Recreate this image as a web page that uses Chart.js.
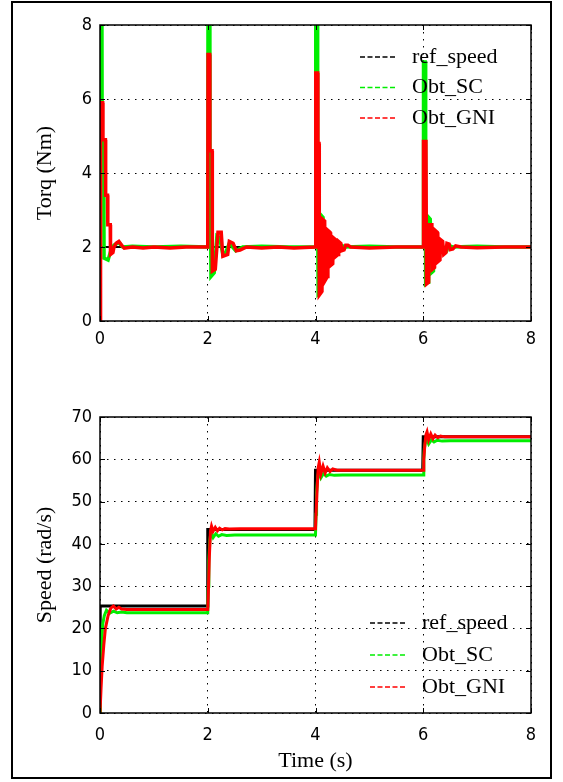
<!DOCTYPE html>
<html>
<head>
<meta charset="utf-8">
<script src="https://cdn.jsdelivr.net/npm/chart.js@4.4.1/dist/chart.umd.min.js"></script>
<style>
  html, body { margin: 0; padding: 0; background: #fff; }
  #page { position: relative; width: 563px; height: 782px; overflow: hidden; }
  #frame { position: absolute; left: 11px; top: 1px; width: 537px; height: 774px; border: 2px solid #000; }
  .box { position: absolute; left: 0; width: 563px; }
  #torqBox { top: 0; height: 370px; }
  #speedBox { top: 375px; height: 400px; }
</style>
</head>
<body>
<div id="page">
  <div id="frame"></div>
  <div class="box" id="torqBox"><canvas id="torqChart"></canvas></div>
  <div class="box" id="speedBox"><canvas id="speedChart"></canvas></div>
</div>
<script>
// --- datos ---
const seriesNames = ["ref_speed", "Obt_SC", "Obt_GNI"];
const xTicks = [0, 2, 4, 6, 8];
const torqTicks = [0, 2, 4, 6, 8];
const speedTicks = [0, 10, 20, 30, 40, 50, 60, 70];

// par (Nm)
const torqTimeRef = [0, 8];
const torqRef = [2, 2];

const torqTimeSC = [0, 0.005, 0.035, 0.04, 0.07, 0.075, 0.15, 0.2, 0.26, 0.35, 0.42, 0.6, 1.0, 1.5, 2.0,
  2.005, 2.035, 2.04, 2.05, 2.06, 2.12, 2.17, 2.22, 2.28, 2.33, 2.4, 2.52, 2.65, 3.0, 3.5, 4.0,
  4.005, 4.035, 4.04, 4.05, 4.1, 4.11, 4.14, 4.16, 4.2, 4.21, 4.25, 4.27, 4.31, 4.33, 4.36, 4.4, 4.44, 4.48, 4.55, 5.0, 5.5, 6.0,
  6.005, 6.035, 6.04, 6.05, 6.09, 6.1, 6.13, 6.15, 6.19, 6.2, 6.24, 6.26, 6.3, 6.32, 6.35, 6.39, 6.43, 6.47, 6.55, 7.0, 7.5, 8.0];
const torqSC = [0, 9, 9, 4.9, 4.9, 1.7, 1.65, 1.9, 2.05, 2.12, 2.0, 2.02, 2.0, 2.02, 2.0,
  9, 9, 3.4, 3.3, 1.2, 1.3, 2.3, 2.25, 1.8, 1.85, 2.1, 1.9, 2.0, 2.02, 2.0, 2.0,
  9, 9, 2.9, 0.75, 0.85, 2.85, 2.8, 1.3, 1.35, 2.3, 2.25, 1.6, 1.65, 2.15, 2.1, 1.85, 1.88, 2.05, 2.0, 2.02, 2.0, 2.0,
  7.0, 7.0, 2.9, 1.0, 1.05, 2.8, 2.75, 1.3, 1.35, 2.3, 2.25, 1.7, 1.75, 2.1, 2.08, 1.85, 1.88, 2.05, 2.0, 2.02, 2.0, 2.0];

const torqTimeGNI = [0, 0.005, 0.015, 0.05, 0.055, 0.1, 0.105, 0.14, 0.145, 0.19, 0.195, 0.24, 0.26, 0.3, 0.35, 0.4, 0.45, 0.6, 0.8, 1.0, 1.3, 1.6, 2.0,
  2.005, 2.035, 2.04, 2.08, 2.085, 2.14, 2.19, 2.25, 2.28, 2.37, 2.4, 2.47, 2.53, 2.6, 2.72, 3.0, 3.3, 3.6, 4.0,
  4.005, 4.04, 4.045, 4.065, 4.07, 4.12, 4.13, 4.17, 4.18, 4.22, 4.23, 4.27, 4.28, 4.32, 4.33, 4.37, 4.38, 4.42, 4.43, 4.47, 4.49, 4.53, 4.56, 4.6, 4.65, 5.0, 5.5, 6.0,
  6.005, 6.05, 6.06, 6.1, 6.11, 6.16, 6.17, 6.21, 6.22, 6.26, 6.27, 6.31, 6.32, 6.36, 6.38, 6.42, 6.44, 6.48, 6.5, 6.55, 6.6, 6.7, 7.0, 7.5, 8.0];
const torqGNI = [0, 1.6, 5.9, 5.9, 4.9, 4.9, 3.4, 3.4, 2.6, 2.6, 1.8, 1.85, 2.0, 2.1, 2.15, 2.05, 1.97, 2.0, 1.97, 2.0, 1.97, 2.0, 2.0,
  7.2, 7.2, 4.6, 4.6, 1.35, 1.4, 2.4, 2.4, 1.75, 1.8, 2.15, 2.1, 1.9, 1.92, 2.0, 1.97, 2.0, 1.97, 2.0,
  6.7, 6.7, 4.8, 4.8, 0.7, 0.8, 2.75, 2.7, 1.1, 1.2, 2.45, 2.4, 1.5, 1.55, 2.25, 2.2, 1.75, 1.8, 2.15, 2.1, 1.9, 1.92, 2.05, 2.05, 2.0, 1.97, 2.0, 2.0,
  4.85, 4.85, 1.0, 1.05, 2.6, 2.6, 1.4, 1.45, 2.45, 2.4, 1.6, 1.65, 2.2, 2.15, 1.8, 1.85, 2.1, 2.08, 1.93, 1.95, 2.03, 2.0, 1.98, 2.0, 2.0];

// velocidad (rad/s)
const speedTimeRef = [0, 0.004, 1.99, 2.0, 3.99, 4.0, 5.99, 6.0, 8.0];
const speedRef = [0, 25.3, 25.3, 43.4, 43.4, 57.4, 57.4, 65.3, 65.3];

const speedTimeSC = [0, 0.005, 0.01, 0.03, 0.05, 0.08, 0.12, 0.18, 0.25, 0.32, 0.4, 0.5, 1.0, 1.5, 2.0,
  2.01, 2.02, 2.04, 2.06, 2.1, 2.15, 2.2, 2.26, 2.35, 2.5, 3.0, 3.5, 4.0,
  4.01, 4.02, 4.04, 4.06, 4.1, 4.15, 4.2, 4.26, 4.35, 4.5, 5.0, 5.5, 6.0,
  6.01, 6.02, 6.04, 6.06, 6.1, 6.15, 6.2, 6.26, 6.35, 6.5, 7.0, 7.5, 8.0];
const speedSC = [0, 8, 13, 16, 21, 23, 24.3, 23.6, 24.1, 23.7, 23.9, 23.7, 23.7, 23.7, 23.7,
  30, 36, 41, 42.8, 41.5, 42.4, 41.8, 42.2, 42.0, 42.1, 42.1, 42.1, 42.1,
  47, 52, 55.5, 57.2, 55.6, 56.7, 56.0, 56.4, 56.2, 56.3, 56.3, 56.3, 56.3,
  60, 62.5, 64, 64.9, 63.6, 64.6, 64.1, 64.5, 64.3, 64.4, 64.4, 64.4, 64.4];

const speedTimeGNI = [0, 0.01, 0.02, 0.04, 0.07, 0.1, 0.15, 0.2, 0.25, 0.3, 0.35, 0.4, 0.5, 1.0, 1.5, 2.0,
  2.01, 2.03, 2.05, 2.07, 2.1, 2.14, 2.18, 2.22, 2.27, 2.32, 2.4, 2.6, 3.0, 3.5, 4.0,
  4.01, 4.03, 4.05, 4.07, 4.1, 4.14, 4.18, 4.22, 4.27, 4.32, 4.4, 4.6, 5.0, 5.5, 6.0,
  6.01, 6.03, 6.05, 6.07, 6.1, 6.14, 6.18, 6.22, 6.27, 6.32, 6.4, 6.6, 7.0, 7.5, 8.0];
const speedGNI = [0, 0, 6, 11, 16, 20, 23, 24.8, 25.3, 24.6, 25.0, 24.6, 24.5, 24.5, 24.5, 24.5,
  28, 37, 43, 44.2, 43.0, 43.9, 43.1, 43.7, 43.3, 43.6, 43.5, 43.6, 43.6, 43.6, 43.6,
  47, 53, 58, 59.3, 56.6, 58.4, 56.8, 58.0, 57.1, 57.7, 57.4, 57.4, 57.4, 57.4, 57.4,
  60, 63.5, 65.8, 66.5, 64.6, 66.0, 64.9, 65.7, 65.1, 65.5, 65.3, 65.3, 65.3, 65.3, 65.3];

const lineColors = ["#000000", "#00ee00", "#ff0000"];

// une tiempo y valor en puntos {x, y}
function toPoints(times, values) {
  return times.map((t, i) => ({ x: t, y: values[i] }));
}

const tickFont = { family: '"Liberation Sans Narrow", "DejaVu Sans Condensed", Arial, sans-serif', size: 18 };
const serifFont = { family: '"Liberation Serif", "Times New Roman", serif', size: 22 };

// caja del area de trazado + marcas hacia dentro (estilo MATLAB)
const boxPlugin = {
  id: "boxPlugin",
  afterDraw(chart) {
    const { ctx, chartArea: a, scales } = chart;
    ctx.save();
    ctx.strokeStyle = "#000";
    ctx.lineWidth = 1.5;
    ctx.strokeRect(a.left, a.top, a.right - a.left, a.bottom - a.top);
    ctx.lineWidth = 1;
    ctx.beginPath();
    scales.x.ticks.forEach(t => {
      const px = Math.round(scales.x.getPixelForValue(t.value)) + 0.5;
      ctx.moveTo(px, a.bottom); ctx.lineTo(px, a.bottom - 5);
      ctx.moveTo(px, a.top); ctx.lineTo(px, a.top + 5);
    });
    scales.y.ticks.forEach(t => {
      const py = Math.round(scales.y.getPixelForValue(t.value)) + 0.5;
      ctx.moveTo(a.left, py); ctx.lineTo(a.left + 5, py);
      ctx.moveTo(a.right, py); ctx.lineTo(a.right - 5, py);
    });
    ctx.stroke();
    ctx.restore();
  }
};

// leyenda sin caja dentro del area
const obsLegend = {
  id: "obsLegend",
  afterDraw(chart, args, opts) {
    const { ctx, chartArea: a } = chart;
    ctx.save();
    ctx.font = serifFont.size + "px " + serifFont.family;
    ctx.textBaseline = "middle";
    ctx.fillStyle = "#000";
    chart.data.datasets.forEach((ds, i) => {
      const y = a.top + opts.dy + i * opts.gap;
      const x0 = a.left + opts.dx;
      ctx.strokeStyle = ds.borderColor;
      ctx.lineWidth = 1.5;
      ctx.setLineDash([5, 2.5]);
      ctx.beginPath();
      ctx.moveTo(x0, y);
      ctx.lineTo(x0 + opts.len, y);
      ctx.stroke();
      ctx.setLineDash([]);
      ctx.fillText(ds.label, x0 + opts.textDx, y);
    });
    ctx.restore();
  }
};

function makeDatasets(sets) {
  return sets.map((s, i) => ({
    label: seriesNames[i],
    data: toPoints(s[0], s[1]),
    borderColor: lineColors[i],
    borderWidth: s[2],
    pointRadius: 0,
    tension: 0,
    fill: false,
    clip: 0,
    order: 3 - i
  }));
}

function makeChart(id, datasets, yTicks, yTitle, xTitle, xHeight, padTop, xPad, legendOpts) {
  const yMin = yTicks[0], yMax = yTicks[yTicks.length - 1];
  return new Chart(document.getElementById(id), {
    type: "line",
    data: { datasets },
    plugins: [boxPlugin, obsLegend],
    options: {
      responsive: true,
      maintainAspectRatio: false,
      animation: false,
      events: [],
      layout: { padding: { top: padTop, right: 32, left: 0, bottom: 0 } },
      plugins: {
        legend: { display: false },
        tooltip: { enabled: false },
        obsLegend: legendOpts
      },
      scales: {
        x: {
          type: "linear",
          min: xTicks[0],
          max: xTicks[xTicks.length - 1],
          afterBuildTicks: s => { s.ticks = xTicks.map(v => ({ value: v })); },
          ticks: { color: "#000", font: tickFont, padding: xPad, maxRotation: 0 },
          grid: { color: "#000", lineWidth: 1, drawTicks: false },
          border: { display: false, dash: [1.5, 5.5] },
          title: xTitle ? { display: true, text: xTitle, color: "#000", font: serifFont, padding: { top: 0, bottom: 1 } } : { display: false },
          afterFit: s => { s.height = xHeight; }
        },
        y: {
          type: "linear",
          min: yMin,
          max: yMax,
          afterBuildTicks: s => { s.ticks = yTicks.map(v => ({ value: v })); },
          ticks: { color: "#000", font: tickFont, padding: 8 },
          grid: { color: "#000", lineWidth: 1, drawTicks: false },
          border: { display: false, dash: [1.5, 5.5] },
          title: { display: true, text: yTitle, color: "#000", font: serifFont, padding: { top: 32, bottom: 0 } },
          afterFit: s => { s.width = 100; }
        }
      }
    }
  });
}

makeChart("torqChart",
  makeDatasets([[torqTimeRef, torqRef, 2], [torqTimeSC, torqSC, 3.5], [torqTimeGNI, torqGNI, 3.5]]),
  torqTicks, "Torq (Nm)", null, 49, 25, 8,
  { dx: 260, dy: 32, gap: 30.5, len: 35, textDx: 52 });

makeChart("speedChart",
  makeDatasets([[speedTimeRef, speedRef, 3], [speedTimeSC, speedSC, 3], [speedTimeGNI, speedGNI, 3]]),
  speedTicks, "Speed (rad/s)", "Time (s)", 62, 42, 12,
  { dx: 270, dy: 206, gap: 32, len: 35, textDx: 52 });
</script>
</body>
</html>
